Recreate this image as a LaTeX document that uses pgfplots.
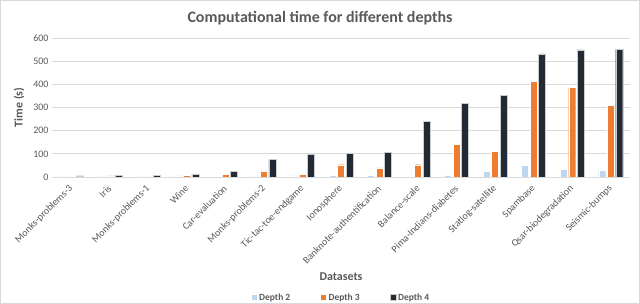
\documentclass[border=0pt]{standalone}
\usepackage{pgfplots}
\pgfplotsset{compat=1.18}
\usepackage{fontspec}
\setmainfont{Carlito}
\definecolor{dtwo}{HTML}{BDD7EE}
\definecolor{dthree}{HTML}{ED7D31}
\definecolor{dfour}{HTML}{222A35}
\definecolor{txt}{HTML}{595959}
\definecolor{gridc}{HTML}{D9D9D9}
\begin{document}
\begin{tikzpicture}
\useasboundingbox (0bp,0bp) rectangle (640bp,304bp);
\fill[white] (0bp,0bp) rectangle (640bp,304bp);
\draw[gridc,line width=1bp] (0.5bp,0.5bp) rectangle (639.5bp,303.5bp);
\node[text=txt,font=\fontsize{16}{18}\selectfont\bfseries] at (320bp,286bp) {Computational time for different depths};
\begin{axis}[
  at={(52bp,127bp)}, anchor=south west,
  scale only axis, width=578bp, height=139bp,
  ybar=1.5bp, bar width=7bp,
  xmin=-0.5, xmax=14.5, ymin=0, ymax=600,
  ytick={0,100,...,600},
  xtick={0,...,14},
  xticklabels={Monks-problems-3,Iris,Monks-problems-1,Wine,Car-evaluation,Monks-problems-2,Tic-tac-toe-endgame,Ionosphere,Banknote-authentification,Balance-scale,Pima-Indians-diabetes,Statlog-satellite,Spambase,Qsar-biodegradation,Seismic-bumps},
  xticklabel style={rotate=45, anchor=east, font=\fontsize{10}{11}\selectfont, text=txt, inner sep=0pt, xshift=-7bp, yshift=-7bp},
  yticklabel style={font=\fontsize{10}{11}\selectfont, text=txt},
  /pgf/number format/assume math mode=true,
  axis line style={draw=none},
  major tick length=0pt,
  ymajorgrids, xmajorgrids=false,
  major grid style={draw=gridc, line width=1bp},
  xlabel={Datasets},
  xlabel style={at={(0.5,-0.719)}, anchor=center, font=\fontsize{12}{13}\selectfont\bfseries, text=txt},
  ylabel={Time (s)},
  ylabel style={at={(-0.057,0.5)}, anchor=center, font=\fontsize{12}{13}\selectfont\bfseries, text=txt},
  legend columns=3,
  legend style={at={(0.5,-0.87)}, anchor=center, draw=none, fill=none, font=\fontsize{9.5}{11}\selectfont\bfseries, text=txt, /tikz/every even column/.append style={column sep=28bp}},
  legend image code/.code={\fill[#1] (0bp,-2.5bp) rectangle (6bp,3.5bp);},
]
\addplot[fill=dtwo, draw=white, line width=0.4bp] coordinates {(0,1) (1,1) (2,1) (3,5) (4,4) (5,1) (6,5) (7,7) (8,7) (9,4) (10,9) (11,24) (12,50) (13,34) (14,30)};
\addplot[fill=dthree, draw=white, line width=0.4bp] coordinates {(0,2) (1,5) (2,3) (3,8) (4,10) (5,26) (6,10) (7,53) (8,39) (9,53) (10,142) (11,110) (12,414) (13,387) (14,309)};
\addplot[fill=dfour, draw=white!80!black, line width=0.4bp] coordinates {(0,5) (1,8) (2,8) (3,11) (4,23) (5,76) (6,99) (7,102) (8,105) (9,241) (10,317) (11,352) (12,531) (13,549) (14,551)};
\legend{Depth 2, Depth 3, Depth 4}
\end{axis}
\end{tikzpicture}
\end{document}
